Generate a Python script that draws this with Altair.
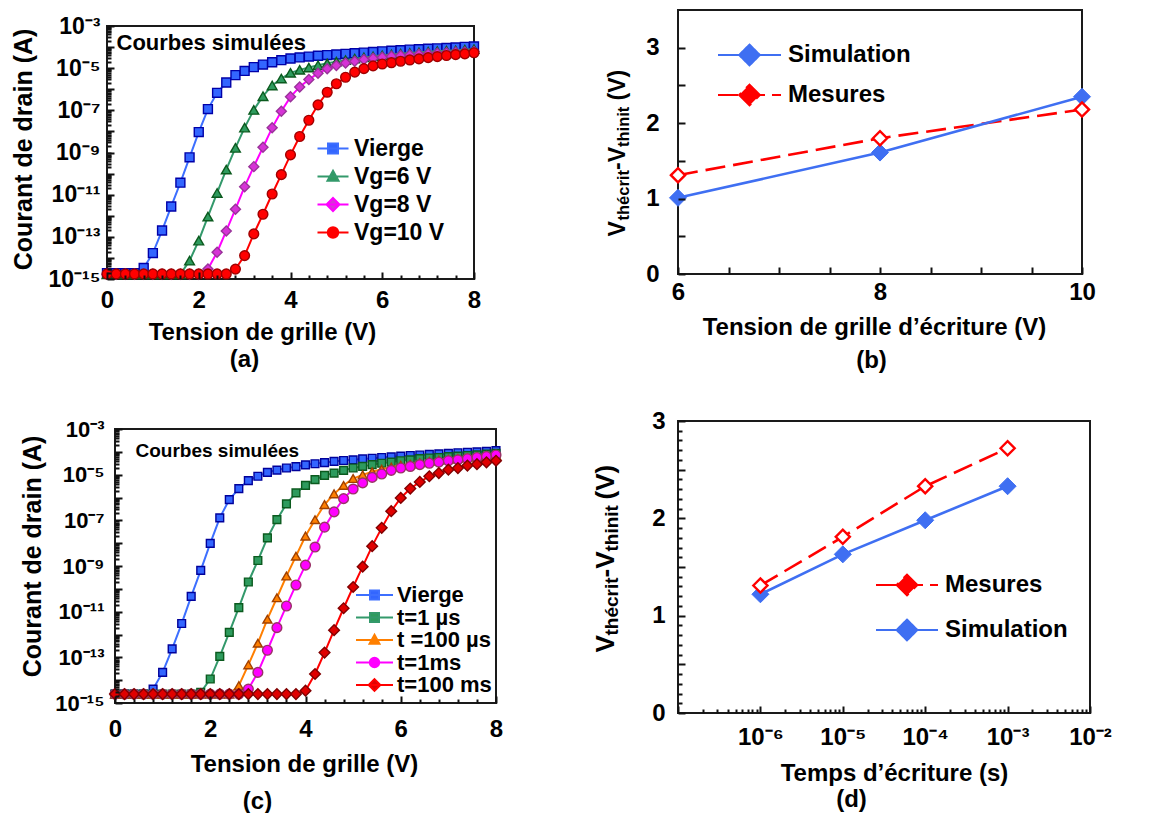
import altair as alt
import pandas as pd

FONT = "Liberation Sans"
INK = "#000000"
FRAME_INK = "#1a1a1a"
TICK_INK = "#111111"

# ---------------- data ----------------
V_GRID = [0.0, 0.2, 0.4, 0.6, 0.8, 1.0, 1.2, 1.4, 1.6, 1.8, 2.0, 2.2, 2.4, 2.6, 2.8,
          3.0, 3.2, 3.4, 3.6, 3.8, 4.0, 4.2, 4.4, 4.6, 4.8, 5.0, 5.2, 5.4, 5.6, 5.8,
          6.0, 6.2, 6.4, 6.6, 6.8, 7.0, 7.2, 7.4, 7.6, 7.8, 8.0]

# panel (a): log10 of drain current (A)
A_NAMES = ["Vierge", "Vg=6 V", "Vg=8 V", "Vg=10 V"]
A_VIERGE = [-14.72, -14.72, -14.72, -14.72, -14.48, -13.77, -12.70, -11.56, -10.43, -9.23,
            -8.03, -6.94, -6.17, -5.68, -5.33, -5.13, -4.95, -4.83, -4.72, -4.62,
            -4.54, -4.49, -4.45, -4.41, -4.38, -4.35, -4.32, -4.29, -4.26, -4.23,
            -4.20, -4.17, -4.15, -4.12, -4.10, -4.08, -4.06, -4.04, -4.02, -3.99, -3.97]
A_VG6 = [-14.78, -14.78, -14.78, -14.78, -14.78, -14.78, -14.78, -14.78, -14.78, -14.13,
         -13.18, -12.04, -10.92, -9.81, -8.78, -7.82, -6.98, -6.33, -5.82, -5.49,
         -5.22, -5.08, -4.97, -4.86, -4.77, -4.69, -4.62, -4.55, -4.49, -4.44,
         -4.39, -4.35, -4.31, -4.28, -4.25, -4.22, -4.19, -4.17, -4.15, -4.12, -4.10]
A_VG8 = [-14.78, -14.78, -14.78, -14.78, -14.78, -14.78, -14.78, -14.78, -14.78, -14.78,
         -14.78, -14.53, -13.73, -12.72, -11.69, -10.62, -9.67, -8.75, -7.83, -7.04,
         -6.36, -5.89, -5.54, -5.24, -5.03, -4.87, -4.76, -4.67, -4.59, -4.53,
         -4.48, -4.43, -4.40, -4.37, -4.34, -4.32, -4.29, -4.27, -4.25, -4.23, -4.21]
A_VG10 = [-14.76, -14.76, -14.76, -14.76, -14.76, -14.76, -14.76, -14.76, -14.76, -14.76,
          -14.76, -14.76, -14.76, -14.76, -14.53, -13.89, -12.86, -11.93, -10.97, -10.05,
          -9.11, -8.24, -7.47, -6.74, -6.14, -5.74, -5.43, -5.19, -5.02, -4.89,
          -4.80, -4.74, -4.67, -4.61, -4.56, -4.50, -4.45, -4.40, -4.36, -4.32, -4.27]

# panel (c): log10 of drain current (A)
C_NAMES = ["Vierge", "t=1 µs", "t =100 µs", "t=1ms", "t=100 ms"]
C_VIERGE = [-14.61, -14.61, -14.61, -14.61, -14.39, -13.66, -12.63, -11.52, -10.33, -9.19,
            -8.01, -6.89, -6.09, -5.61, -5.26, -5.07, -4.90, -4.80, -4.71, -4.65,
            -4.57, -4.52, -4.47, -4.42, -4.38, -4.35, -4.31, -4.28, -4.25, -4.22,
            -4.19, -4.16, -4.14, -4.11, -4.09, -4.07, -4.04, -4.02, -4.00, -3.98, -3.95]
C_T1US = [-14.61, -14.61, -14.61, -14.61, -14.61, -14.61, -14.61, -14.61, -14.61, -14.53,
          -13.95, -12.96, -11.91, -10.82, -9.70, -8.76, -7.77, -6.97, -6.28, -5.80,
          -5.47, -5.22, -5.03, -4.93, -4.81, -4.71, -4.64, -4.56, -4.50, -4.45,
          -4.39, -4.35, -4.30, -4.27, -4.25, -4.21, -4.19, -4.16, -4.13, -4.10, -4.07]
C_T100US = [-14.61, -14.61, -14.61, -14.61, -14.61, -14.61, -14.61, -14.61, -14.61, -14.61,
            -14.61, -14.61, -14.61, -14.24, -13.33, -12.38, -11.33, -10.39, -9.44, -8.57,
            -7.69, -6.97, -6.31, -5.84, -5.47, -5.17, -5.01, -4.87, -4.76, -4.67,
            -4.59, -4.54, -4.48, -4.42, -4.37, -4.33, -4.29, -4.26, -4.22, -4.19, -4.16]
C_T1MS = [-14.61, -14.61, -14.61, -14.61, -14.61, -14.61, -14.61, -14.61, -14.61, -14.61,
          -14.61, -14.61, -14.61, -14.61, -14.39, -13.66, -12.69, -11.70, -10.75, -9.83,
          -8.96, -8.17, -7.30, -6.63, -6.05, -5.63, -5.36, -5.12, -4.97, -4.81,
          -4.71, -4.64, -4.56, -4.50, -4.45, -4.39, -4.35, -4.30, -4.25, -4.20, -4.14]
C_T100MS = [-14.61, -14.61, -14.61, -14.61, -14.61, -14.61, -14.61, -14.61, -14.61, -14.61,
            -14.61, -14.61, -14.61, -14.61, -14.61, -14.61, -14.61, -14.61, -14.61, -14.61,
            -14.46, -13.73, -12.79, -11.81, -10.85, -9.92, -9.03, -8.13, -7.33, -6.60,
            -6.02, -5.61, -5.32, -5.07, -4.93, -4.78, -4.71, -4.60, -4.54, -4.46, -4.39]

# panel (b)
B_NAMES = ["Simulation", "Mesures"]
B_VG = [6, 8, 10]
B_SIM = [1.01, 1.61, 2.35]
B_MES = [1.31, 1.80, 2.18]

# panel (d)
D_NAMES = ["Mesures", "Simulation"]
D_T = [1e-6, 1e-5, 1e-4, 1e-3]
D_SIM = [1.22, 1.63, 1.98, 2.33]
D_MES = [1.31, 1.81, 2.33, 2.72]

# ---------------- helpers ----------------
SUP = str.maketrans("-0123456789", "⁻⁰¹²³⁴⁵⁶⁷⁸⁹")
IND = dict(fill="independent", stroke="independent", shape="independent", strokeDash="independent")


def pow_label(exps):
    expr = "''"
    for e in exps:
        expr = f"(abs(log(datum.value) / LN10 - ({e})) < 0.01 ? '10{str(e).translate(SUP)}' : {expr})"
    return expr


def ax(**kw):
    base = dict(grid=False, domain=False, labelFlush=False, labelOverlap=False, zindex=2,
                tickColor=TICK_INK, tickWidth=2, tickOpacity=1, labelColor=INK, titleColor=INK,
                labelFont=FONT, titleFont=FONT, labelFontWeight="bold", titleFontWeight="bold")
    base.update(kw)
    return alt.Axis(**base)


def tick_axis(orient, values, size, shift=0, **kw):
    kw.setdefault("labels", False)
    return ax(orient=orient, values=values, ticks=True, tickSize=size, offset=-size - shift,
              title=None, **kw)


def title_axis(orient, text, size, tx, ty, angle=0, align="center", baseline="alphabetic", **kw):
    return ax(orient=orient, ticks=False, labels=False, title=text, titleFontSize=size,
              titleX=tx, titleY=ty, titleAngle=angle, titleAlign=align, titleBaseline=baseline, **kw)


def phantom(tx, ty):
    # invisible spacer text that only widens the panel's bounds
    return title_axis("left", " ", 10, tx, ty, align="left", baseline="top", titleOpacity=0)


def carrier(df1, xf, yf, xs, ys, xa=None, ya=None):
    return alt.Chart(df1).mark_point(opacity=0, size=1).encode(
        x=alt.X(xf, scale=xs, axis=xa), y=alt.Y(yf, scale=ys, axis=ya))


def frame_layers(xs, ys, xdom, ydom):
    # outline of the plotting area, drawn through the panel's own scales
    fdf = pd.DataFrame({"fx": [xdom[0], xdom[1], xdom[1], xdom[0], xdom[0]],
                        "fy": [ydom[0], ydom[0], ydom[1], ydom[1], ydom[0]],
                        "k": [0, 1, 2, 3, 4]})
    line = alt.Chart(fdf).mark_line(color=FRAME_INK, strokeWidth=2, strokeCap="square",
                                    strokeJoin="round").encode(
        x=alt.X("fx:Q", scale=xs, axis=None), y=alt.Y("fy:Q", scale=ys, axis=None),
        order="k:Q")
    rdf = pd.DataFrame({"x0": [xdom[0]], "x1": [xdom[1]], "y0": [ydom[0]], "y1": [ydom[1]]})
    rect = alt.Chart(rdf).mark_rect(fill="white", fillOpacity=0, stroke=FRAME_INK,
                                    strokeWidth=2).encode(
        x=alt.X("x0:Q", scale=xs, axis=None), x2="x1:Q",
        y=alt.Y("y0:Q", scale=ys, axis=None), y2="y1:Q")
    return [rect, line]


def sym_path(shape, half, m):
    line = f"M{-half:.3f},0H{half:.3f}"
    if shape == "square":
        mk = f"M{-m:.3f},{-m:.3f}H{m:.3f}V{m:.3f}H{-m:.3f}Z"
    elif shape == "triangle-up":
        mk = f"M0,{-1.15*m:.3f}L{1.1*m:.3f},{0.85*m:.3f}L{-1.1*m:.3f},{0.85*m:.3f}Z"
    elif shape == "diamond":
        mk = f"M0,{-1.3*m:.3f}L{1.3*m:.3f},0L0,{1.3*m:.3f}L{-1.3*m:.3f},0Z"
    else:
        r = 1.05 * m
        mk = f"M{-r:.3f},0A{r:.3f},{r:.3f} 0 1,0 {r:.3f},0A{r:.3f},{r:.3f} 0 1,0 {-r:.3f},0Z"
    return line + mk


SYM_UNIT = 8  # legend symbol radius in px (symbolSize = (2*unit)^2)


def legend(sym_left, ly, fs, line_len, rp, gap):
    half = line_len / 2
    lx = sym_left + half - SYM_UNIT - 4
    lo = SYM_UNIT + half + gap - 2 * SYM_UNIT - 4
    return alt.Legend(orient="none", legendX=lx, legendY=ly, title=None, labelFont=FONT,
                      labelFontSize=fs, labelFontWeight="bold", labelColor=INK,
                      symbolSize=(2 * SYM_UNIT) ** 2, symbolStrokeWidth=2, rowPadding=rp,
                      labelOffset=lo, padding=0, labelLimit=500, symbolOpacity=1)


def legend_layer(df, field, names, fills, strokes, paths, leg, dashes=None):
    enc = dict(
        fill=alt.Fill(field, scale=alt.Scale(domain=names, range=fills), legend=leg),
        stroke=alt.Stroke(field, scale=alt.Scale(domain=names, range=strokes), legend=leg),
        shape=alt.Shape(field, scale=alt.Scale(domain=names, range=paths), legend=leg),
    )
    if dashes is not None:
        enc["strokeDash"] = alt.StrokeDash(field, scale=alt.Scale(domain=names, range=dashes), legend=leg)
    return alt.Chart(df).transform_filter("false").mark_point(filled=True, opacity=1).encode(**enc)


DECADES_IV = [10.0 ** e for e in range(-15, -2)]
MINOR_IV = [m * 10.0 ** e for e in range(-15, -3) for m in range(2, 10)]
X_MAJOR_IV = [0, 2, 4, 6, 8]
X_MINOR_IV = [0.4, 0.8, 1.2, 1.6, 2.4, 2.8, 3.2, 3.6, 4.4, 4.8, 5.2, 5.6, 6.4, 6.8, 7.2, 7.6]


def iv_panel(names, logs, styles, w, h, cfg):
    xo, yo = cfg["xoff"], cfg["yoff"]
    rows = []
    for n, arr in zip(names, logs):
        for v, e in zip(V_GRID, arr):
            rows.append({"serie": n, "vg": v, "id": 10.0 ** e})
    df = pd.DataFrame(rows)
    xdom, ydom = [0, 8], [1e-15, 1e-3]
    xs = alt.Scale(domain=xdom, nice=False, zero=False, range=[xo, xo + w])
    ys = alt.Scale(type="log", domain=ydom, nice=False, range=[yo + h, yo])
    layers = frame_layers(xs, ys, xdom, ydom)
    for n, st in zip(names, styles):
        b = alt.Chart(df).transform_filter(alt.datum.serie == n)
        enc = dict(x=alt.X("vg:Q", scale=xs, axis=None), y=alt.Y("id:Q", scale=ys, axis=None))
        layers.append(b.mark_line(color=st["line"], strokeWidth=2).encode(**enc))
        layers.append(b.mark_point(shape=st["shape"], filled=True, fill=st["fill"], stroke=st["edge"],
                                   strokeWidth=1.4, size=st["size"], opacity=1).encode(**enc))
    leg = legend(cfg["sx"] + xo, cfg["ly"] + yo, cfg["lfs"], cfg["llen"], cfg["rp"], cfg["gap"])
    paths = [sym_path(st["shape"], cfg["llen"] / 2 / SYM_UNIT, cfg["mk"] / SYM_UNIT) for st in styles]
    layers.append(legend_layer(df, "serie:N", names, [s["fill"] for s in styles],
                               [s["line"] for s in styles], paths, leg))
    d1 = df.iloc[[0]]
    odd = [-15, -13, -11, -9, -7, -5, -3]
    layers.append(carrier(d1, "vg:Q", "id:Q", xs, ys,
                          tick_axis("bottom", X_MAJOR_IV, 7, labels=True, labelFontSize=cfg["xlfs"],
                                    labelPadding=cfg["xlp"]),
                          tick_axis("left", DECADES_IV, 7, shift=xo, labels=True, labelExpr=pow_label(odd),
                                    labelFontSize=cfg["ylfs"], labelPadding=cfg["ylp"])))
    layers.append(carrier(d1, "vg:Q", "id:Q", xs, ys,
                          tick_axis("bottom", X_MINOR_IV, 4), tick_axis("left", MINOR_IV, 4, shift=xo)))
    layers.append(carrier(d1, "vg:Q", "id:Q", xs, ys,
                          title_axis("bottom", "Tension de grille (V)", cfg["tfs"], cfg["xtx"] + xo, cfg["xty"]),
                          title_axis("left", "Courant de drain (A)", cfg["ytfs"], cfg["ytx"] + xo,
                                     cfg["yty"] + yo, angle=270, align="center")))
    layers.append(carrier(d1, "vg:Q", "id:Q", xs, ys,
                          title_axis("bottom", cfg["cap"], cfg["tfs"], cfg["ctx"] + xo, cfg["cty"]),
                          phantom(150, -cfg["top_ext"]) if cfg.get("top_ext") else None))
    layers.append(carrier(d1, "vg:Q", "id:Q", xs, ys,
                          title_axis("top", "Courbes simulées", cfg["nfs"], cfg["ndx"] + xo,
                                     cfg["nby"] + yo, align="left"), None))
    return alt.layer(*layers).resolve_axis(x="independent", y="independent").properties(
        width=w + xo, height=h + yo)


def vt_panel(xvals, sim, mes, names, w, h, xs, xdom, xaxes, yaxes, cfg):
    rows = []
    for x, s, m in zip(xvals, sim, mes):
        rows.append({"serie": "Simulation", "x": x, "dv": s})
        rows.append({"serie": "Mesures", "x": x, "dv": m})
    df = pd.DataFrame(rows)
    ys = alt.Scale(domain=cfg["ydom"], nice=False, zero=False)
    enc = dict(x=alt.X("x:Q", scale=xs, axis=None), y=alt.Y("dv:Q", scale=ys, axis=None))
    sim_b = alt.Chart(df).transform_filter(alt.datum.serie == "Simulation")
    mes_b = alt.Chart(df).transform_filter(alt.datum.serie == "Mesures")
    layers = frame_layers(xs, ys, xdom, cfg["ydom"]) + [
        mes_b.mark_line(color="#FF0000", strokeWidth=2.6, strokeDash=[20, 8]).encode(**enc),
        sim_b.mark_line(color="#3F6FF2", strokeWidth=2.6).encode(**enc),
        sim_b.mark_point(shape="diamond", filled=True, fill="#3F6FF2", stroke="#3F6FF2",
                         strokeWidth=1, size=290, opacity=1).encode(**enc),
        mes_b.mark_point(shape="diamond", filled=True, fill="white", stroke="#FF0000",
                         strokeWidth=2.4, size=200, opacity=1).encode(**enc),
    ]
    colors = {"Simulation": "#3F6FF2", "Mesures": "#FF0000"}
    dash = {"Simulation": [1, 0], "Mesures": [20, 7]}
    leg = legend(cfg["sx"], cfg["ly"], cfg["lfs"], cfg["llen"], cfg["rp"], cfg["gap"])
    paths = [sym_path("diamond", cfg["llen"] / 2 / SYM_UNIT, cfg["mk"] / SYM_UNIT) for _ in names]
    layers.append(legend_layer(df, "serie:N", names, [colors[n] for n in names],
                               [colors[n] for n in names], paths, leg, [dash[n] for n in names]))
    d1 = df.iloc[[0]]
    n = max(len(xaxes), len(yaxes))
    for i in range(n):
        xa = xaxes[i] if i < len(xaxes) else None
        ya = yaxes[i] if i < len(yaxes) else None
        layers.append(carrier(d1, "x:Q", "dv:Q", xs, ys, xa, ya))
    return alt.layer(*layers).resolve_axis(x="independent", y="independent").properties(
        width=w, height=h)


def ytitle_axes(pieces):
    out = []
    for text, fs, start, base in pieces:
        out.append(title_axis("left", text, fs, base, start, angle=270, align="left"))
    return out


# ---------------- panel (a) ----------------
A_STYLES = [
    dict(line="#3D6FFF", fill="#3366FF", edge="#0000A8", shape="square", size=80),
    dict(line="#33996B", fill="#2E9B5E", edge="#0B5A1E", shape="triangle-up", size=95),
    dict(line="#FF00FF", fill="#D633D6", edge="#993399", shape="diamond", size=100),
    dict(line="#FF0000", fill="#FF0000", edge="#A00000", shape="circle", size=95),
]
A_W, A_H = 367, 253
panel_a = iv_panel(A_NAMES, [A_VIERGE, A_VG6, A_VG8, A_VG10], A_STYLES, A_W, A_H, dict(
    xoff=0, yoff=16,
    sx=211, ly=111, lfs=23, llen=31, rp=4, gap=6, mk=5,
    xlfs=24, xlp=9, ylfs=23, ylp=7,
    tfs=24, xty=60, xtx=155, ytfs=25, ytx=-76, yty=123,
    cap="(a)", ctx=137, cty=87,
    ndx=9, nby=23, nfs=22))

# ---------------- panel (c) ----------------
C_STYLES = [
    dict(line="#3D6FFF", fill="#3366FF", edge="#00009A", shape="square", size=60),
    dict(line="#33996B", fill="#2E9B5E", edge="#0B5A1E", shape="square", size=60),
    dict(line="#FF7F00", fill="#FF8000", edge="#A04000", shape="triangle-up", size=80),
    dict(line="#FF00FF", fill="#FF00FF", edge="#993366", shape="circle", size=95),
    dict(line="#FF0000", fill="#E00000", edge="#800000", shape="diamond", size=115),
]
C_W, C_H = 381, 274
panel_c = iv_panel(C_NAMES, [C_VIERGE, C_T1US, C_T100US, C_T1MS, C_T100MS], C_STYLES, C_W, C_H, dict(
    xoff=8, yoff=0, top_ext=27,
    sx=242, ly=155, lfs=22, llen=37, rp=0.5, gap=5, mk=4.5,
    xlfs=24, xlp=14, ylfs=22, ylp=11,
    tfs=24, xty=68, xtx=189, ytfs=25, ytx=-75, yty=127,
    cap="(c)", ctx=142, cty=105,
    ndx=20, nby=27, nfs=19))

# ---------------- panel (b) ----------------
B_W, B_H = 404, 264
b_xdom = [6, 10]
b_xs = alt.Scale(domain=b_xdom, nice=False, zero=False)
b_xaxes = [
    tick_axis("bottom", [6, 6.5, 7, 7.5, 8, 8.5, 9, 9.5, 10], 7, labels=True,
              labelExpr="datum.value % 2 === 0 ? format(datum.value, 'd') : ''",
              labelFontSize=24, labelPadding=6),
    title_axis("bottom", "Tension de grille d’écriture (V)", 24, 196, 60),
    title_axis("bottom", "(b)", 24, 193, 93),
]
b_yaxes = [
    tick_axis("left", [0, 0.5, 1, 1.5, 2, 2.5, 3], 7, labels=True,
              labelExpr="datum.value % 1 === 0 ? format(datum.value, 'd') : ''",
              labelFontSize=24, labelPadding=19),
    phantom(-86, 120),
] + ytitle_axes([("V", 23, 226, -54), ("thécrit", 16.5, 210, -50), ("-V", 23, 159.5, -54),
                 ("thinit", 16.5, 136.5, -50), ("(V)", 23, 90, -54)])
panel_b = vt_panel(B_VG, B_SIM, B_MES, B_NAMES, B_W, B_H, b_xs, b_xdom, b_xaxes, b_yaxes, dict(
    ydom=[0, 3.5], sx=40, ly=33, lfs=24, llen=63, rp=10, gap=7, mk=8))

# ---------------- panel (d) ----------------
D_W, D_H = 412, 292
d_xdom = [1e-7, 1e-2]
d_xs = alt.Scale(type="log", domain=d_xdom, nice=False)
D_DEC = [10.0 ** e for e in range(-7, -1)]
D_MINOR = [m * 10.0 ** e for e in range(-7, -2) for m in range(2, 10)]
d_xaxes = [
    tick_axis("bottom", D_DEC, 7, labels=True, labelExpr=pow_label([-6, -5, -4, -3, -2]),
              labelFontSize=24, labelPadding=12),
    tick_axis("bottom", D_MINOR, 4),
    title_axis("bottom", "Temps d’écriture (s)", 24, 216, 67),
    title_axis("bottom", "(d)", 24, 173, 93),
]
d_yaxes = [
    tick_axis("left", [0, 0.5, 1, 1.5, 2, 2.5, 3], 7, labels=True,
              labelExpr="datum.value % 1 === 0 ? format(datum.value, 'd') : ''",
              labelFontSize=24, labelPadding=13),
    tick_axis("left", [0.1, 0.2, 0.3, 0.4, 0.6, 0.7, 0.8, 0.9, 1.1, 1.2, 1.3, 1.4, 1.6, 1.7, 1.8,
                       1.9, 2.1, 2.2, 2.3, 2.4, 2.6, 2.7, 2.8, 2.9], 4),
    phantom(150, -19),
] + ytitle_axes([("V", 26, 231, -65), ("thécrit", 19, 214, -61), ("-V", 26, 156, -65),
                 ("thinit", 19, 130, -61), ("(V)", 26, 78, -65)])
panel_d = vt_panel(D_T, D_SIM, D_MES, D_NAMES, D_W, D_H, d_xs, d_xdom, d_xaxes, d_yaxes, dict(
    ydom=[0, 3], sx=198, ly=152, lfs=24, llen=62, rp=15, gap=7, mk=8))

# ---------------- layout ----------------
chart = alt.concat(
    panel_a, panel_b, panel_c, panel_d,
    columns=2, align="none", bounds="full", spacing={"row": 30, "column": 87},
).resolve_scale(**IND).properties(
    padding={"left": 2, "top": 0, "right": 0, "bottom": 0}
).configure_view(strokeWidth=0)

chart.save("out.html", embed_options={"renderer": "svg", "actions": False})
